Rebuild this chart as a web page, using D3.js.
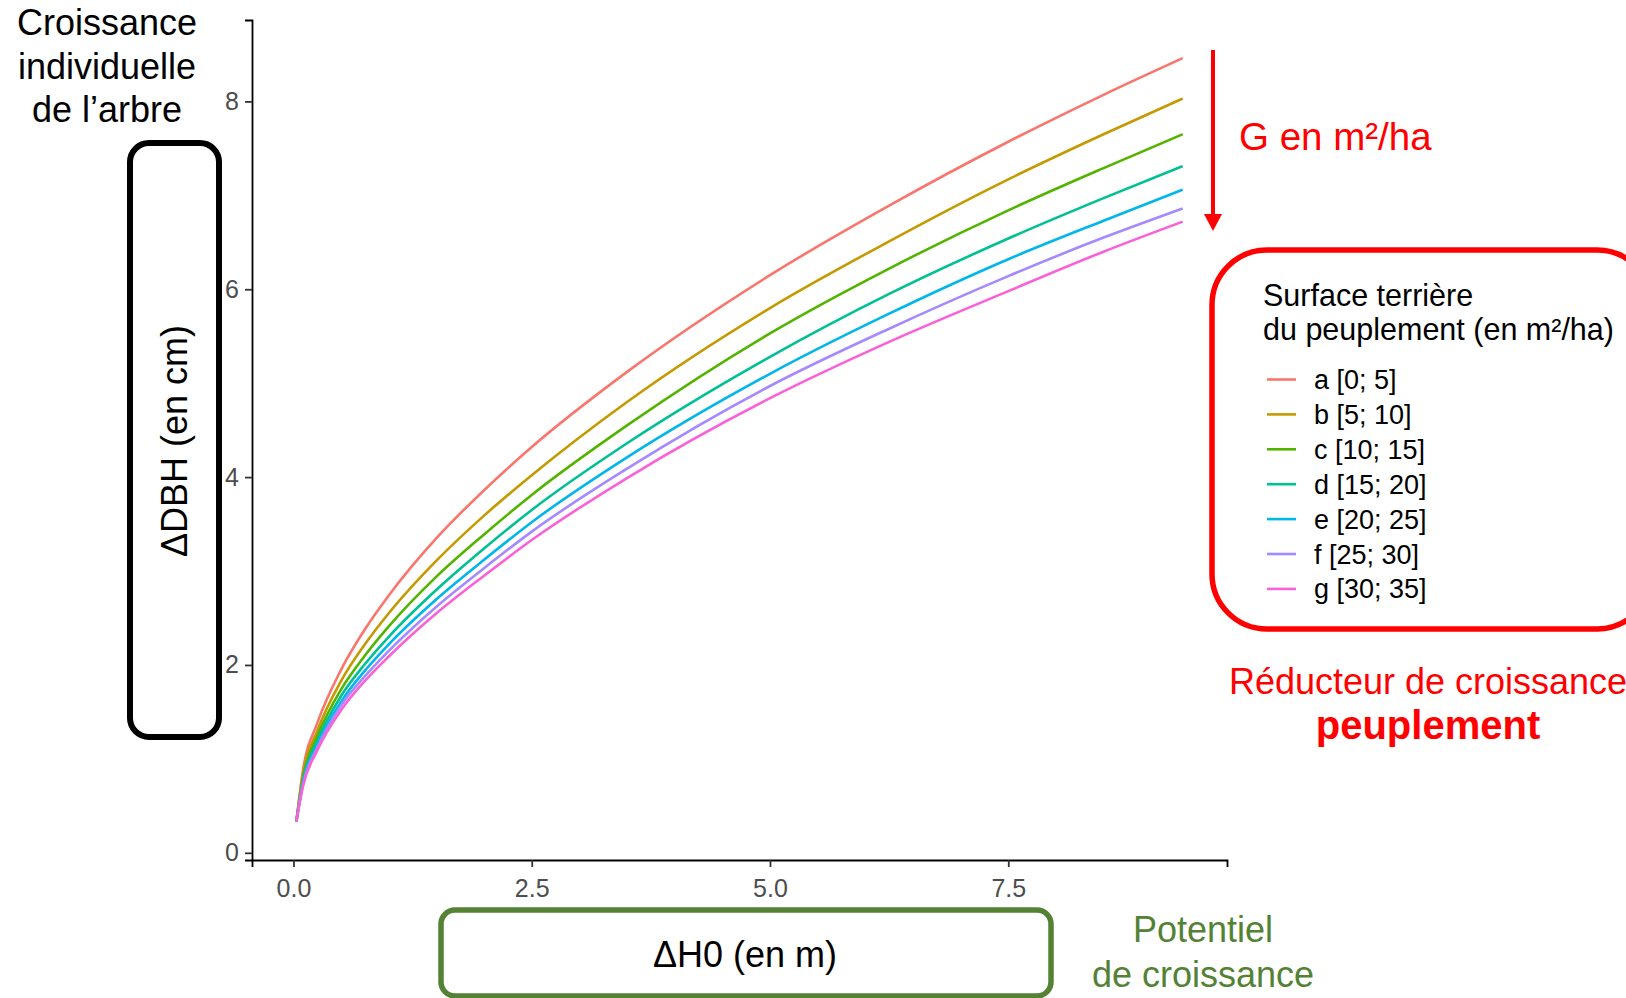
<!DOCTYPE html>
<html>
<head>
<meta charset="utf-8">
<script src="https://cdn.jsdelivr.net/npm/d3@7"></script>
<style>
  html, body { margin: 0; padding: 0; background: #ffffff; }
  svg { display: block; }
  text { font-family: "Liberation Sans", Arial, sans-serif; }
</style>
</head>
<body>
<script>
// Height potential growth (ΔH0, m) at which each curve is sampled
const dh0 = [0.03, 0.1, 0.25, 0.5, 0.75, 1, 1.5, 2, 2.5, 3.5, 5, 6.25, 7.5, 8.5, 9.33];

// Diameter increment (ΔDBH, cm) per basal-area class
const classA = [0.33, 0.88, 1.38, 1.95, 2.38, 2.74, 3.35, 3.86, 4.32, 5.12, 6.15, 6.89, 7.57, 8.07, 8.46];
const classB = [0.33, 0.84, 1.30, 1.83, 2.22, 2.55, 3.11, 3.59, 4.02, 4.80, 5.80, 6.51, 7.17, 7.65, 8.03];
const classC = [0.33, 0.80, 1.24, 1.74, 2.10, 2.41, 2.94, 3.39, 3.81, 4.55, 5.53, 6.22, 6.84, 7.29, 7.65];
const classD = [0.33, 0.77, 1.19, 1.67, 2.01, 2.30, 2.80, 3.24, 3.65, 4.36, 5.28, 5.95, 6.54, 6.97, 7.31];
const classE = [0.33, 0.75, 1.15, 1.61, 1.94, 2.22, 2.70, 3.12, 3.52, 4.21, 5.10, 5.74, 6.32, 6.73, 7.06];
const classF = [0.33, 0.73, 1.12, 1.57, 1.88, 2.15, 2.62, 3.03, 3.42, 4.09, 4.97, 5.58, 6.14, 6.55, 6.86];
const classG = [0.33, 0.71, 1.09, 1.52, 1.83, 2.09, 2.55, 2.95, 3.33, 3.99, 4.84, 5.44, 5.98, 6.40, 6.72];

const classLabels = ["a [0; 5]", "b [5; 10]", "c [10; 15]", "d [15; 20]", "e [20; 25]", "f [25; 30]", "g [30; 35]"];
const classColors = ["#F8766D", "#C49A00", "#53B400", "#00C094", "#00B6EB", "#A58AFF", "#FB61D7"];

const xTicks = [0, 2.5, 5, 7.5];
const yTicks = [0, 2, 4, 6, 8];

const seriesValues = [classA, classB, classC, classD, classE, classF, classG];

const W = 1626, H = 998;
const svg = d3.select("body").append("svg").attr("width", W).attr("height", H);
svg.append("rect").attr("width", W).attr("height", H).attr("fill", "#ffffff");

// ggplot-style 5% expansion of the data range
const allY = seriesValues.flat();
const xExt = d3.extent(dh0), yExt = d3.extent(allY);
const xPad = (xExt[1] - xExt[0]) * 0.05, yPad = (yExt[1] - yExt[0]) * 0.05;

const x = d3.scaleLinear().domain([xExt[0] - xPad, xExt[1] + xPad]).range([252, 1227]);
const y = d3.scaleLinear().domain([yExt[0] - yPad, yExt[1] + yPad]).range([860, 20]);

// Axes
const xAxis = svg.append("g").attr("transform", `translate(0,${y.range()[0]})`)
  .call(d3.axisBottom(x).tickValues(xTicks).tickFormat(d3.format(".1f")).tickSizeOuter(0).tickSize(7).tickPadding(6));
const yAxis = svg.append("g").attr("transform", `translate(${x.range()[0]},0)`)
  .call(d3.axisLeft(y).tickValues(yTicks).tickFormat(d3.format("d")).tickSizeOuter(0).tickSize(7).tickPadding(6));

[xAxis, yAxis].forEach(g => {
  g.select(".domain").attr("stroke", "#000000").attr("stroke-width", 1.8);
  g.selectAll(".tick line").attr("stroke", "#333333").attr("stroke-width", 1.8);
  g.selectAll(".tick text").attr("fill", "#4D4D4D").attr("font-size", 25)
    .style("font-family", "'Liberation Sans', Arial, sans-serif");
});
xAxis.selectAll(".tick text").attr("dy", "0.95em");

// Curves
const line = d3.line().x(d => x(d[0])).y(d => y(d[1])).curve(d3.curveMonotoneX);
seriesValues.forEach((vals, i) => {
  svg.append("path")
    .datum(dh0.map((v, j) => [v, vals[j]]))
    .attr("fill", "none")
    .attr("stroke", classColors[i])
    .attr("stroke-width", 2.6)
    .attr("stroke-linejoin", "round")
    .attr("d", line);
});

// Top-left caption
const cap = svg.append("text").attr("text-anchor", "middle").attr("font-size", 36).attr("fill", "#000");
["Croissance", "individuelle", "de l\u2019arbre"].forEach((t, i) => {
  cap.append("tspan").attr("x", 107).attr("y", 35 + i * 43.6).text(t);
});

// Y axis title in a rounded box
svg.append("rect").attr("x", 130).attr("y", 143).attr("width", 89).attr("height", 594)
  .attr("rx", 19).attr("fill", "none").attr("stroke", "#000").attr("stroke-width", 6);
svg.append("text").attr("transform", "translate(187,441) rotate(-90)")
  .attr("text-anchor", "middle").attr("font-size", 36).attr("fill", "#000").text("\u0394DBH (en cm)");

// X axis title in a rounded box
svg.append("rect").attr("x", 441).attr("y", 910).attr("width", 610).attr("height", 86)
  .attr("rx", 14).attr("fill", "none").attr("stroke", "#548235").attr("stroke-width", 5.5);
svg.append("text").attr("x", 745).attr("y", 967).attr("text-anchor", "middle")
  .attr("font-size", 36).attr("fill", "#000").text("\u0394H0 (en m)");

// Potential caption
const pot = svg.append("text").attr("text-anchor", "middle").attr("font-size", 36).attr("fill", "#548235");
["Potentiel", "de croissance"].forEach((t, i) => {
  pot.append("tspan").attr("x", 1203).attr("y", 942 + i * 45).text(t);
});

// Red arrow showing increasing basal area
svg.append("line").attr("x1", 1213).attr("y1", 50).attr("x2", 1213).attr("y2", 216)
  .attr("stroke", "#FF0000").attr("stroke-width", 4);
svg.append("path").attr("d", "M1204,214 L1222,214 L1213,231 Z").attr("fill", "#FF0000");
svg.append("text").attr("x", 1239).attr("y", 150).attr("font-size", 38.5).attr("fill", "#FF0000").text("G en m\u00B2/ha");

// Legend box
svg.append("rect").attr("x", 1212).attr("y", 250).attr("width", 440).attr("height", 379)
  .attr("rx", 55).attr("fill", "none").attr("stroke", "#FF0000").attr("stroke-width", 5.5);

const legTitle = svg.append("text").attr("font-size", 30.5).attr("fill", "#000");
["Surface terri\u00E8re", "du peuplement (en m\u00B2/ha)"].forEach((t, i) => {
  legTitle.append("tspan").attr("x", 1263).attr("y", 306 + i * 34).text(t);
});

classLabels.forEach((lab, i) => {
  const cy = 379.5 + i * 34.9;
  svg.append("line").attr("x1", 1267).attr("x2", 1296).attr("y1", cy).attr("y2", cy)
    .attr("stroke", classColors[i]).attr("stroke-width", 2.6);
  svg.append("text").attr("x", 1314).attr("y", cy + 9.5).attr("font-size", 27).attr("fill", "#000").text(lab);
});

// Stand growth reducer caption
svg.append("text").attr("x", 1428).attr("y", 694).attr("text-anchor", "middle")
  .attr("font-size", 36).attr("fill", "#FF0000").text("R\u00E9ducteur de croissance");
svg.append("text").attr("x", 1428).attr("y", 739).attr("text-anchor", "middle")
  .attr("font-size", 40).attr("font-weight", "bold").attr("fill", "#FF0000").text("peuplement");
</script>
</body>
</html>
